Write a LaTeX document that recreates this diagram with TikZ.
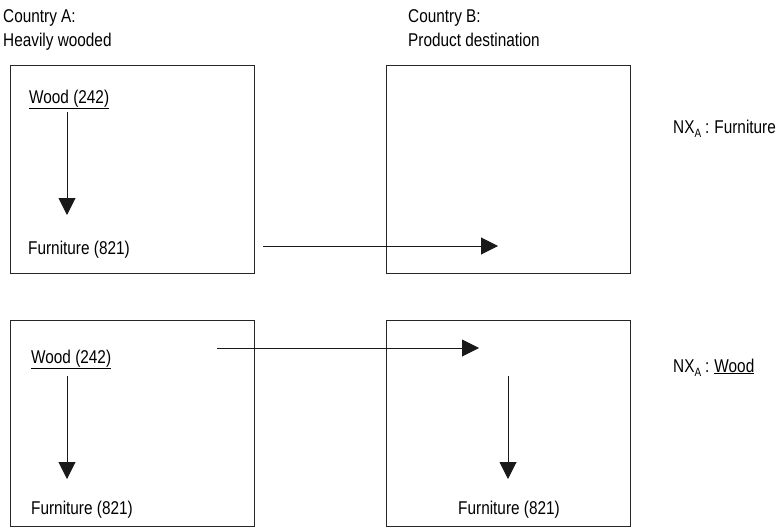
\documentclass[tikz,border=0pt]{standalone}
\usepackage{fontspec}
\setmainfont[FakeStretch=0.83]{Liberation Sans}
\usetikzlibrary{arrows.meta}
\begin{document}
\begin{tikzpicture}[x=1pt,y=-1pt,
  box/.style={draw=black!85,line width=1.4pt,minimum width=244pt,anchor=north west,inner sep=0pt},
  lbl/.style={anchor=base west,inner sep=0pt,font=\fontsize{18.5}{24}\selectfont},
  arr/.style={draw=black!90,line width=1pt,-{Triangle[length=17pt,width=17pt]}}]
\useasboundingbox (0,0) rectangle (784,527);
% boxes
\node[box,minimum height=208pt] (bA1) at (10,65) {};
\node[box,minimum height=208pt] (bB1) at (386,65) {};
\node[box,minimum height=206pt] (bA2) at (10,320) {};
\node[box,minimum height=206pt] (bB2) at (386,320) {};
% headings
\node[lbl] (ca) at (3,23) {Country A:};
\node[lbl] (ha) at (3,47) {Heavily wooded};
\node[lbl] (cb) at (408,23) {Country B:};
\node[lbl] (pb) at (408,47) {Product destination};
% top row
\node[lbl] (w1) at (29,103) {\underline{Wood (242)}};
\node[lbl] (f1) at (28,254) {Furniture (821)};
\node[lbl] (nx1) at (673,133) {NX\raisebox{-4pt}{\fontsize{12}{12}\selectfont A}\hspace{4pt}:\hspace{5pt}Furniture};
% bottom row
\node[lbl] (w2) at (31,363) {\underline{Wood (242)}};
\node[lbl] (f2) at (31,514) {Furniture (821)};
\node[lbl,anchor=base] (f3) at (509,514) {Furniture (821)};
\node[lbl] (nx2) at (673,372) {NX\raisebox{-4pt}{\fontsize{12}{12}\selectfont A}\hspace{4pt}:\hspace{5pt}\underline{Wood}};
% arrow end points
\coordinate (v1s) at (67,112); \coordinate (v1e) at (67,215);
\coordinate (v2s) at (67,376); \coordinate (v2e) at (67,479);
\coordinate (v3s) at (508,376); \coordinate (v3e) at (508,479);
\coordinate (h1s) at (263,246); \coordinate (h1e) at (498,246);
\coordinate (h2s) at (217,348); \coordinate (h2e) at (479,348);
% arrows
\draw[arr] (v1s) -- (v1e);
\draw[arr] (v2s) -- (v2e);
\draw[arr] (v3s) -- (v3e);
\draw[arr] (h1s) -- (h1e);
\draw[arr] (h2s) -- (h2e);
\end{tikzpicture}
\end{document}
